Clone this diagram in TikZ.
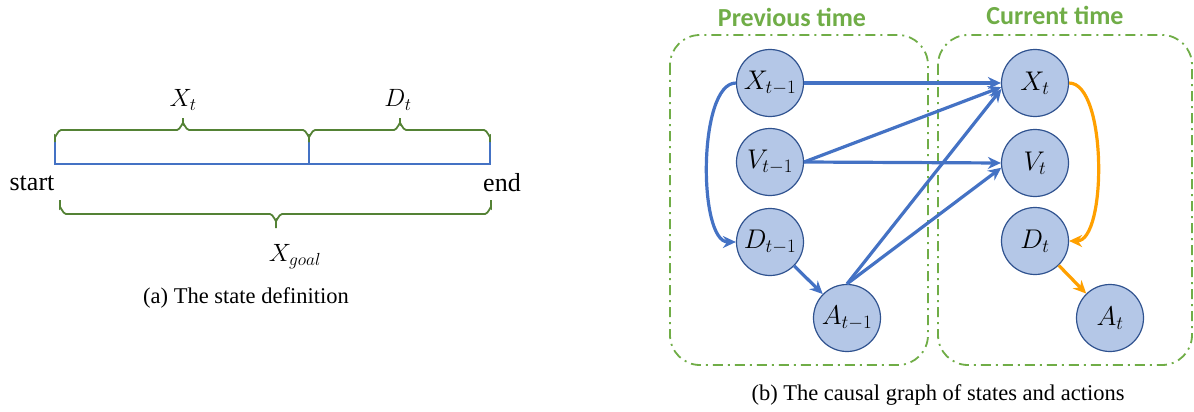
\RequirePackage{fix-cm}
\documentclass[tikz,border=0pt]{standalone}
\usepackage{fontspec}
\setmainfont{Liberation Serif}
\newfontfamily\hdfont{Carlito}
\usetikzlibrary{arrows.meta}
\definecolor{nodefill}{HTML}{B4C7E7}
\definecolor{nodeline}{HTML}{2F528F}
\definecolor{edgeblue}{HTML}{4472C4}
\definecolor{edgeorange}{HTML}{FFA000}
\definecolor{boxgreen}{HTML}{70AD47}
\definecolor{bracegreen}{HTML}{548235}
\begin{document}
\begin{tikzpicture}[x=1pt,y=-1pt,
  var/.style={circle, draw=nodeline, fill=nodefill, line width=1.2pt, minimum size=67pt, inner sep=0pt, font=\fontsize{27}{30}\selectfont},
  blueedge/.style={draw=edgeblue, line width=3.2pt, -{Stealth[length=13pt,width=12pt]}},
  orangeedge/.style={draw=edgeorange, line width=3.2pt, -{Stealth[length=13pt,width=12pt]}},
  timebox/.style={draw=boxgreen, line width=1.8pt, rounded corners=30pt, dash pattern=on 10pt off 5pt on 2pt off 5pt},
  header/.style={text=boxgreen, font=\hdfont\bfseries\fontsize{26}{30}\selectfont},
  brc/.style={draw=bracegreen, line width=1.8pt},
  bar/.style={draw=edgeblue, line width=2pt},
  lbl/.style={font=\fontsize{25}{28}\selectfont},
  endlbl/.style={font=\fontsize{26}{30}\selectfont},
  captxt/.style={font=\fontsize{22.5}{26}\selectfont}
]
\useasboundingbox (0,0) rectangle (1194,412);

% ---------- (a) state definition ----------
\draw[bar] (55,142) -- (55,164) -- (490,164) -- (490,142);
\draw[bar] (309,142) -- (309,164);

% top brace X_t
\draw[brc] (55,142) -- (55,136) to[out=-90,in=180] (61,130) -- (177,130) to[out=0,in=90] (183,124) -- (183,118);
\draw[brc] (183,124) to[out=90,in=180] (189,130) -- (303,130) to[out=0,in=-90] (309,136) -- (309,142);
% top brace D_t
\draw[brc] (309,142) -- (309,136) to[out=-90,in=180] (315,130) -- (394,130) to[out=0,in=90] (400,124) -- (400,118);
\draw[brc] (400,124) to[out=90,in=180] (406,130) -- (484,130) to[out=0,in=-90] (490,136) -- (490,142);
% bottom brace X_goal
\draw[brc] (60,200) -- (60,208) to[out=90,in=180] (66,214) -- (270,214) to[out=0,in=-90] (276,220) -- (276,228);
\draw[brc] (276,220) to[out=-90,in=180] (282,214) -- (485,214) to[out=0,in=90] (491,208) -- (491,200);

\node[lbl] (xt) at (183,100) {$X_t$};
\node[lbl] (dt) at (398,100) {$D_t$};
\node[lbl] (xg) at (295,257) {$X_{goal}$};
\node[endlbl] (start) at (32,183) {start};
\node[endlbl] (end) at (502,183) {end};
\node[captxt] (capa) at (246,298) {(a) The state definition};

% ---------- (b) causal graph ----------
\draw[timebox] (670,35) rectangle (928,365);
\draw[timebox] (938,35) rectangle (1192,365);
\node[header] (prev) at (792,17) {Previous time};
\node[header] (curr) at (1055,15) {Current time};

\node[var] (Xp) at (770,83) {$X_{t-1}$};
\node[var] (Vp) at (770,162) {$V_{t-1}$};
\node[var] (Dp) at (770,242) {$D_{t-1}$};
\node[var] (Ap) at (847,318) {$A_{t-1}$};
\node[var] (X) at (1035,83) {$X_t$};
\node[var] (V) at (1035,163) {$V_t$};
\node[var] (D) at (1035,241) {$D_t$};
\node[var] (A) at (1110,318) {$A_t$};

\draw[blueedge] (Xp.east) -- (X.west);
\draw[blueedge] (Vp.east) -- (X.187);
\draw[blueedge] (Vp.east) -- (V.west);
\draw[blueedge] (Ap.north) -- (X.190);
\draw[blueedge] (Ap.north) -- (V.188);
\draw[blueedge] (Dp) -- (Ap);
\draw[blueedge] (Xp.west) .. controls +(-38,0) and +(-38,0) .. (Dp.west);
\draw[orangeedge] (X.east) .. controls +(38,0) and +(38,0) .. (D.east);
\draw[orangeedge] (D) -- (A);

\node[captxt] (capb) at (938,395) {(b) The causal graph of states and actions};
\end{tikzpicture}
\end{document}
